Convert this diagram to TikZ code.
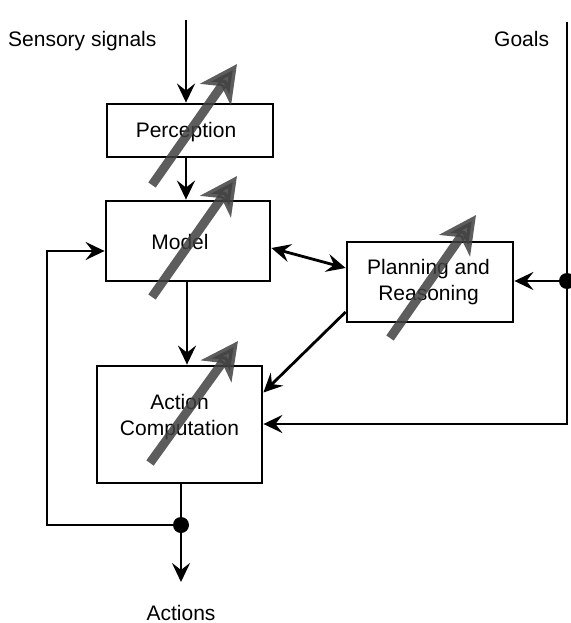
\documentclass[tikz,border=0pt]{standalone}
\usepackage{fontspec}
\setmainfont{Liberation Sans}
\usetikzlibrary{arrows.meta}
\definecolor{knob}{RGB}{65,65,65}
\begin{document}
\begin{tikzpicture}[x=1pt,y=-1pt,
  font=\fontsize{21}{26}\selectfont,
  box/.style={draw,line width=2.8pt,inner sep=0pt},
  lbl/.style={inner sep=0pt,align=center},
  arr/.style={line width=2.8pt,-{Stealth[length=19pt,width=18pt,inset=7pt]}},
  dualarr/.style={line width=2.8pt,{Stealth[length=19pt,width=18pt,inset=7pt]}-{Stealth[length=19pt,width=18pt,inset=7pt]}},
  ln/.style={line width=2.8pt},
  dot/.style={circle,fill=black,inner sep=0pt,minimum size=16pt},
  tune/.style={draw=knob,opacity=0.85,line width=9pt,-{Stealth[length=37pt,width=37pt,inset=10pt]}}]
\useasboundingbox (0,0) rectangle (570,623);
% boxes
\node[box,minimum width=166pt,minimum height=53pt] (perc) at (190,130.5) {};
\node[box,minimum width=164pt,minimum height=80pt] (model) at (188,241) {};
\node[box,minimum width=166pt,minimum height=80pt] (plan) at (430,282) {};
\node[box,minimum width=165pt,minimum height=117pt] (ac) at (179.5,424.5) {};
% labels
\node[lbl,anchor=base] (tperc) at (186,137) {Perception};
\node[lbl,anchor=base] (tmodel) at (180,249) {Model};
\node[lbl] (tplan) at (428.5,282) {Planning and\\Reasoning};
\node[lbl] (tac) at (179.5,417) {Action\\Computation};
\node[lbl,anchor=base west] (tsens) at (8,47) {Sensory signals};
\node[lbl,anchor=base west] (tgoals) at (494,47) {Goals};
\node[lbl,anchor=base] (tact) at (181,620) {Actions};
% free ends
\coordinate (stop) at (186,20);
\coordinate (gtop) at (567,22);
\coordinate (gbot) at (567,424);
\coordinate (aend) at (181,582);
\coordinate (fb1) at (47,525);
\coordinate (fb2) at (47,251);
\node[dot] (gdot) at (567,281) {};
\node[dot] (adot) at (181,525) {};
% connectors
\draw[arr] (stop) -- (stop |- perc.north);
\draw[arr] (perc.south -| stop) -- (model.north -| stop);
\draw[arr] ([xshift=-1pt]model.south) -- ([xshift=-1pt]model.south |- ac.north);
\draw[dualarr] ([yshift=-7pt]model.east) -- ([yshift=14pt]plan.west);
\draw[arr] ([yshift=-30pt]plan.west) -- ([yshift=32pt]ac.east);
\draw[ln] (gtop) -- (gdot);
\draw[arr] (gdot) -- (gbot) -- (gbot -| ac.east);
\draw[arr] (gdot) -- (gdot -| plan.east);
\draw[ln] (ac.south -| adot) -- (adot);
\draw[arr] (adot) -- (aend);
\draw[arr] (adot) -- (fb1) -- (fb2) -- (fb2 -| model.west);
% adjustment arrows
\draw[tune] (152,185) -- (237,64);
\draw[tune] (152,297) -- (237,176);
\draw[tune] (390,338) -- (476,215);
\draw[tune] (150,463) -- (238,341);
\end{tikzpicture}
\end{document}
